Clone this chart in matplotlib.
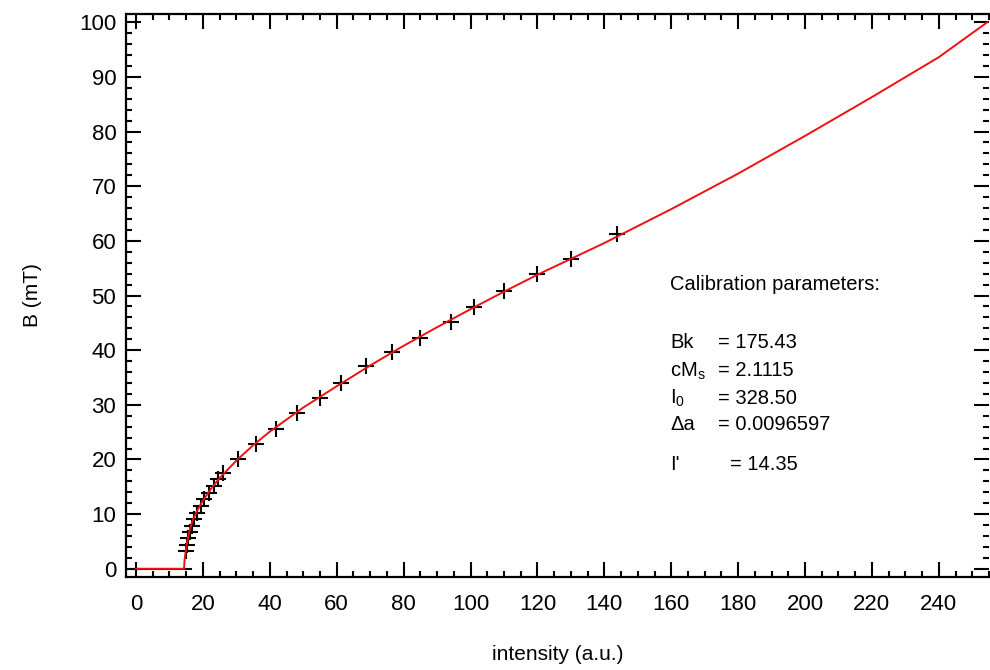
import matplotlib
matplotlib.use("Agg")
import matplotlib.pyplot as plt
from matplotlib.ticker import MultipleLocator

plt.rcParams['font.family'] = ['Liberation Sans', 'DejaVu Sans']
plt.rcParams['mathtext.fontset'] = 'custom'
plt.rcParams['mathtext.rm'] = 'Liberation Sans'

# measured calibration points (intensity, B)
meas_I = [15.0, 15.2, 15.5, 16.0, 16.6, 17.3, 18.3, 19.3, 20.4, 21.7, 23.2, 24.6,
          26.1, 30.4, 35.8, 41.8, 48.1, 54.9, 61.2, 68.7, 76.4, 84.8, 94.3,
          100.9, 110.1, 119.9, 129.9, 143.9]
meas_B = [3.2, 4.4, 5.6, 6.8, 7.9, 9.1, 10.3, 11.5, 12.7, 13.9, 15.2, 16.4,
          17.5, 20.1, 22.9, 25.6, 28.5, 31.3, 34.0, 37.1, 39.7, 42.2, 45.2,
          47.9, 50.8, 54.0, 56.7, 61.2]

# fitted calibration curve
fit_I = [0, 14.35, 14.5, 14.8, 15.3, 16.0, 17.0, 18.5, 20.0, 22.5, 25.0, 30.0,
         35.0, 40.0, 50.0, 60.0, 70.0, 80.0, 90.0, 100.0, 110.0, 120.0, 130.0,
         140.0, 160.0, 180.0, 200.0, 220.0, 240.0, 254.5]
fit_B = [0, 0, 1.5, 3.0, 5.0, 7.0, 9.0, 10.9, 12.5, 14.7, 16.6, 19.8,
         22.6, 25.1, 29.5, 33.4, 37.2, 40.8, 44.2, 47.5, 50.7, 53.8, 56.7,
         59.6, 65.8, 72.3, 79.2, 86.3, 93.6, 100.0]

base_I = [-3, 16.5]
base_B = [0, 0]

fig = plt.figure(figsize=(9.9, 6.7), dpi=100)
ax = fig.add_axes([126/990, 93/670, 863/990, 563/670])

ax.plot(base_I, base_B, color='black', lw=1.5)
ax.plot(fit_I, fit_B, color='#ee1111', lw=1.4, zorder=3)
ax.plot(meas_I, meas_B, ls='none', marker='+', ms=12, mew=1.5, color='black', zorder=2)

ax.set_xlim(-3, 255)
ax.set_ylim(-1.5, 101.5)
ax.xaxis.set_major_locator(MultipleLocator(20))
ax.xaxis.set_minor_locator(MultipleLocator(5))
ax.yaxis.set_major_locator(MultipleLocator(10))
ax.yaxis.set_minor_locator(MultipleLocator(2))
ax.tick_params(which='both', direction='in', top=True, right=True, width=1.5, labelsize=16)
ax.tick_params(which='major', length=11)
ax.tick_params(axis='x', which='major', pad=12)
ax.tick_params(axis='y', which='major', pad=7)
ax.tick_params(which='minor', length=4.5)
ax.spines['right'].set_visible(False)
for s in ['left', 'bottom', 'top']:
    ax.spines[s].set_linewidth(1.6)

ax.set_xlabel('intensity (a.u.)', fontsize=15, labelpad=22)
ax.set_ylabel('B (mT)', fontsize=15, labelpad=27)

fs = 14.5
fig.text(670/990, 1 - 285/670, 'Calibration parameters:', fontsize=fs, va='center')
labels = ['Bk', r'cM$_\mathregular{s}$', r'I$_\mathregular{0}$', u'\u0394a', "I'"]
values = ['= 175.43', '= 2.1115', '= 328.50', '= 0.0096597', '= 14.35']
ys = [343, 371, 398, 425, 465]
xs = [718, 718, 718, 718, 730]
for lab, val, y, xv in zip(labels, values, ys, xs):
    fig.text(670/990, 1 - y/670, lab, fontsize=fs, va='center')
    fig.text(xv/990, 1 - y/670, val, fontsize=fs, va='center')

fig.savefig('out.png', dpi=100)
